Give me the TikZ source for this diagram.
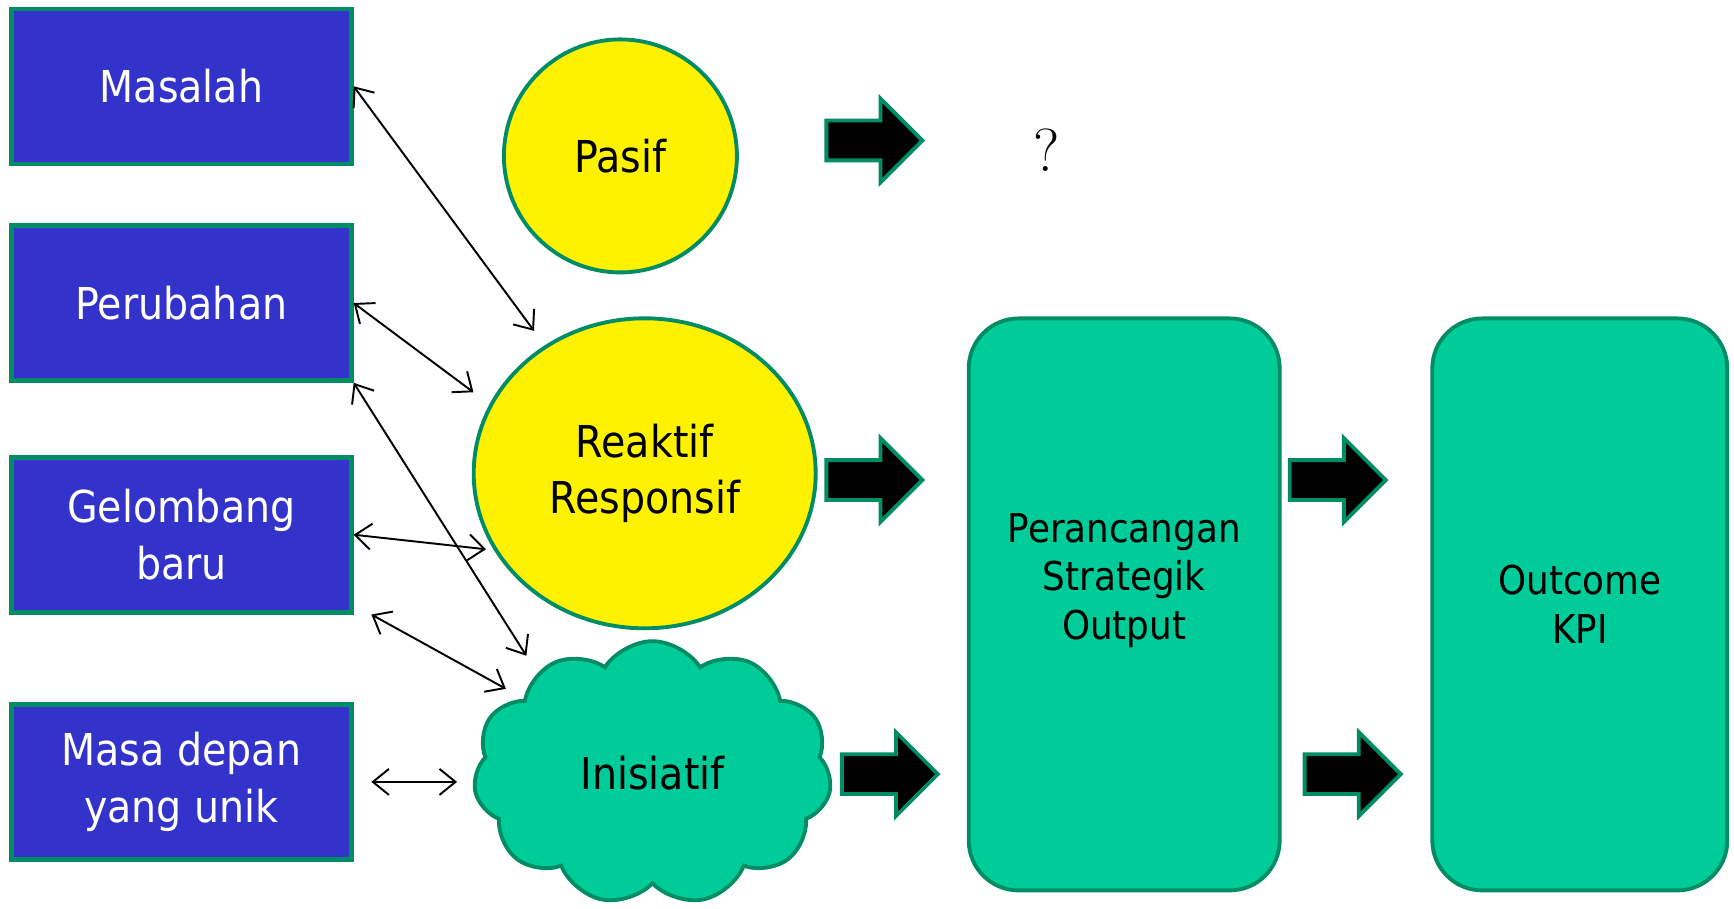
\documentclass[tikz,border=0pt]{standalone}
\usepackage{fontspec}
\setsansfont{DejaVu Sans}[FakeStretch=0.9]
\usetikzlibrary{shapes.geometric,shapes.symbols,shapes.arrows,arrows.meta}

\definecolor{edgegreen}{RGB}{0,140,100}
\definecolor{causeblue}{RGB}{51,51,204}
\definecolor{stagegreen}{RGB}{0,204,153}

\tikzset{
    cause/.style={draw=edgegreen, line width=1.3pt, fill=causeblue, text=white,
        minimum width=3.4cm, minimum height=1.55cm, align=center,
        font=\sffamily\fontsize{12.5}{16}\selectfont},
    mode/.style={ellipse, draw=edgegreen, line width=1.1pt, fill=yellow, inner sep=0pt,
        align=center, font=\sffamily\fontsize{12.5}{16}\selectfont},
    stage/.style={draw=edgegreen, line width=1.1pt, fill=stagegreen, rounded corners=0.5cm,
        minimum height=5.72cm},
    stagetext/.style={align=center, font=\sffamily\fontsize{11.3}{13.8}\selectfont},
    bigarrow/.style={single arrow, draw=edgegreen, line width=1.1pt, fill=black,
        inner xsep=0pt, inner ysep=0.18cm, minimum height=0.96cm,
        single arrow head extend=0.22cm},
    link/.style={{Straight Barb[length=1.6mm,width=2.6mm]}-{Straight Barb[length=1.6mm,width=2.6mm]},
        line width=0.55pt}
}

\begin{document}
\begin{tikzpicture}
    \useasboundingbox (0,0) rectangle (17.34,-9.08);

    \node[cause] (masalah) at (1.814,-0.863) {Masalah};
    \node[cause] (perubahan) at (1.814,-3.030) {Perubahan};
    \node[cause] (gelombang) at (1.814,-5.347) {Gelombang\\baru};
    \node[cause] (masadepan) at (1.814,-7.819) {Masa depan\\yang unik};

    \node[mode, minimum width=2.33cm, minimum height=2.33cm] (pasif) at (6.204,-1.559) {Pasif};
    \node[mode, minimum width=3.42cm, minimum height=3.10cm] (reaktif) at (6.447,-4.733) {Reaktif\\Responsif};
    \node[cloud, cloud puffs=11, cloud puff arc=115, draw=edgegreen, line width=1.1pt, fill=stagegreen,
        minimum width=3.58cm, minimum height=2.63cm, font=\sffamily\fontsize{12.5}{16}\selectfont]
        (inisiatif) at (6.525,-7.730) {Inisiatif};

    \node[font=\LARGE] (tanya) at (10.47,-1.50) {?};

    \node[stage, minimum width=3.11cm] (rancang) at (11.242,-6.044) {};
    \node[stagetext] (rancangtext) at (11.242,-5.806) {Perancangan\\Strategik\\Output};
    \node[stage, minimum width=2.95cm, stagetext] (outcome) at (15.798,-6.044) {Outcome\\KPI};

    \node[bigarrow] (ar1) at (8.644,-1.404) {};
    \node[bigarrow] (ar2) at (8.644,-4.800) {};
    \node[bigarrow] (ar3) at (8.799,-7.741) {};
    \node[bigarrow] (ar4) at (13.278,-4.800) {};
    \node[bigarrow] (ar5) at (13.427,-7.741) {};

    \draw[link, shorten >=0.18cm] (masalah.east) -- (reaktif.128);
    \draw[link, shorten >=0.2cm] (perubahan.east) -- (reaktif.156);
    \draw[link, shorten >=0.2cm] (perubahan.south east) -- (inisiatif.139);
    \draw[link, shorten >=0.08cm] (gelombang.east) -- (reaktif.207);
    \draw[link, shorten >=0.2cm] ([xshift=0.177cm]gelombang.south east) -- (inisiatif.150);
    \draw[link, shorten <=0.177cm, shorten >=0.17cm] (masadepan.east) -- (masadepan.east -| inisiatif.west);
\end{tikzpicture}
\end{document}
